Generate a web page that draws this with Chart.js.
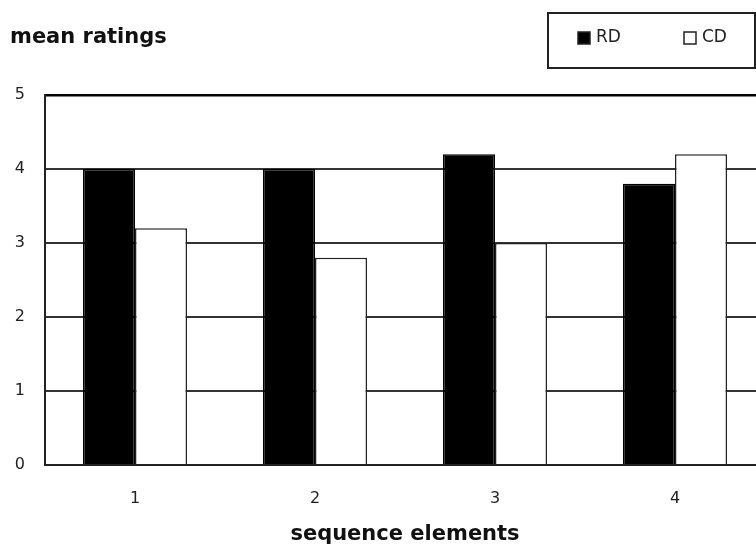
<!DOCTYPE html>
<html>
<head>
<meta charset="utf-8">
<script src="https://cdn.jsdelivr.net/npm/chart.js@4/dist/chart.umd.min.js"></script>
<style>
html,body{margin:0;padding:0;background:#fff;overflow:hidden;width:756px;height:548px;}
canvas{display:block;}
</style>
</head>
<body>
<canvas id="c" width="770" height="548"></canvas>
<script>
const categories = ["1", "2", "3", "4"];
const rdValues = [4.0, 4.0, 4.2, 3.8];
const cdValues = [3.2, 2.8, 3.0, 4.2];
const yTicks = [0, 1, 2, 3, 4, 5];
const yTitle = "mean ratings";
const xTitle = "sequence elements";

const overlay = {
  id: 'overlay',
  afterDraw(chart) {
    const ctx = chart.ctx;
    ctx.save();
    // y title
    ctx.fillStyle = '#111';
    ctx.font = 'bold 21px "DejaVu Sans"';
    ctx.textAlign = 'left';
    ctx.textBaseline = 'middle';
    ctx.fillText(yTitle, 10, 38);
    // legend box
    ctx.strokeStyle = '#222';
    ctx.lineWidth = 2;
    ctx.strokeRect(548, 13, 207, 55);
    const ds = chart.data.datasets;
    const xs = [578, 684];
    ctx.font = '17px "DejaVu Sans"';
    ds.forEach((d, i) => {
      ctx.fillStyle = d.backgroundColor;
      ctx.fillRect(xs[i], 32, 12, 12);
      ctx.lineWidth = 1.5;
      ctx.strokeStyle = '#222';
      ctx.strokeRect(xs[i], 32, 12, 12);
      ctx.fillStyle = '#222';
      ctx.fillText(d.label, xs[i] + 18, 38);
    });
    ctx.restore();
  }
};

new Chart(document.getElementById('c'), {
  type: 'bar',
  data: {
    labels: categories,
    datasets: [
      { label: 'RD', data: rdValues, backgroundColor: '#000', borderColor: '#000', borderWidth: 1.5 },
      { label: 'CD', data: cdValues, backgroundColor: '#fff', borderColor: '#222', borderWidth: 1.5 }
    ]
  },
  options: {
    responsive: false,
    animation: false,
    devicePixelRatio: 1,
    layout: { padding: { top: 95, right: 5, left: 0, bottom: 0 } },
    plugins: { legend: { display: false }, tooltip: { enabled: false }, title: { display: false } },
    datasets: { bar: { categoryPercentage: 0.578, barPercentage: 1.0 } },
    scales: {
      x: {
        grid: { display: false, drawTicks: false },
        border: { display: true, color: '#222', width: 2 },
        ticks: { color: '#222', font: { family: 'DejaVu Sans', size: 16 }, padding: 24 },
        title: { display: true, text: xTitle, color: '#111', font: { family: 'DejaVu Sans', size: 21, weight: 'bold' }, padding: { top: 0, bottom: 1 } },
        afterFit(s) { s.height = 83; }
      },
      y: {
        min: 0, max: 5,
        afterBuildTicks(s) { s.ticks = yTicks.map(v => ({ value: v })); },
        grid: {
          drawTicks: false,
          color: (c) => c.tick && c.tick.value === 5 ? '#000' : '#333',
          lineWidth: (c) => c.tick && c.tick.value === 5 ? 2.5 : 2
        },
        border: { display: true, color: '#222', width: 2 },
        ticks: { color: '#222', font: { family: 'DejaVu Sans', size: 16 }, padding: 20 },
        afterFit(s) { s.width = 45; }
      }
    }
  },
  plugins: [overlay]
});
</script>
</body>
</html>
